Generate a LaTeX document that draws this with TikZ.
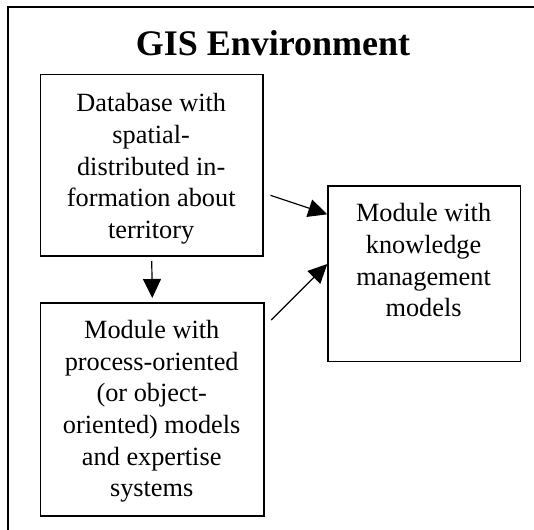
\documentclass[tikz,border=0pt]{standalone}
\usepackage{fontspec}
\setmainfont{Liberation Serif}
\usetikzlibrary{arrows.meta,calc}
\begin{document}
\begin{tikzpicture}[x=1pt,y=-1pt,
  boxnode/.style={draw,line width=1.2pt,rectangle,inner sep=0pt,anchor=north west},
  txt/.style={anchor=base,inner sep=0pt,font=\fontsize{26.3}{31.7}\selectfont},
  arr/.style={line width=1.2pt,-{Triangle[length=19pt,width=18pt]}}]
\useasboundingbox (0,0) rectangle (534,529);
\fill[white] (0,0) rectangle (534,529);
\begin{scope}
\clip (0,0) rectangle (534,529);
\draw[line width=2pt] (7.5,560) -- (7.5,7.5) -- (560,7.5);
\end{scope}
\node[anchor=base,inner sep=0pt,font=\fontsize{36}{40}\selectfont\bfseries] (title) at (273,55.5) {GIS Environment};
\node[boxnode,minimum width=222.3pt,minimum height=181pt] (b1) at (40,74.3) {};
\node[boxnode,minimum width=223.3pt,minimum height=213pt] (b2) at (40,302.3) {};
\node[boxnode,minimum width=192.7pt,minimum height=175.4pt] (b3) at (327.3,185.3) {};
\node[txt] (t1) at (151.2,111.7) {\begin{tabular}[t]{@{}c@{}}Database with\\spatial-\\distributed in-\\formation about\\territory\end{tabular}};
\node[txt] (t2) at (151.7,338.3) {\begin{tabular}[t]{@{}c@{}}Module with\\process-oriented\\(or object-\\oriented) models\\and expertise\\systems\end{tabular}};
\node[txt] (t3) at (423.6,221.7) {\begin{tabular}[t]{@{}c@{}}Module with\\knowledge\\management\\models\end{tabular}};
\draw[arr] ($(b1.south)+(0,4.7)$) -- ($(b2.north)+(0,-4.3)$);
\draw[arr] ($(b1.north east)+(7,121)$) -- ($(b3.north west)+(0,29)$);
\draw[arr] ($(b2.north east)+(6.7,17.7)$) -- ($(b3.north west)+(0,78.7)$);
\end{tikzpicture}
\end{document}
